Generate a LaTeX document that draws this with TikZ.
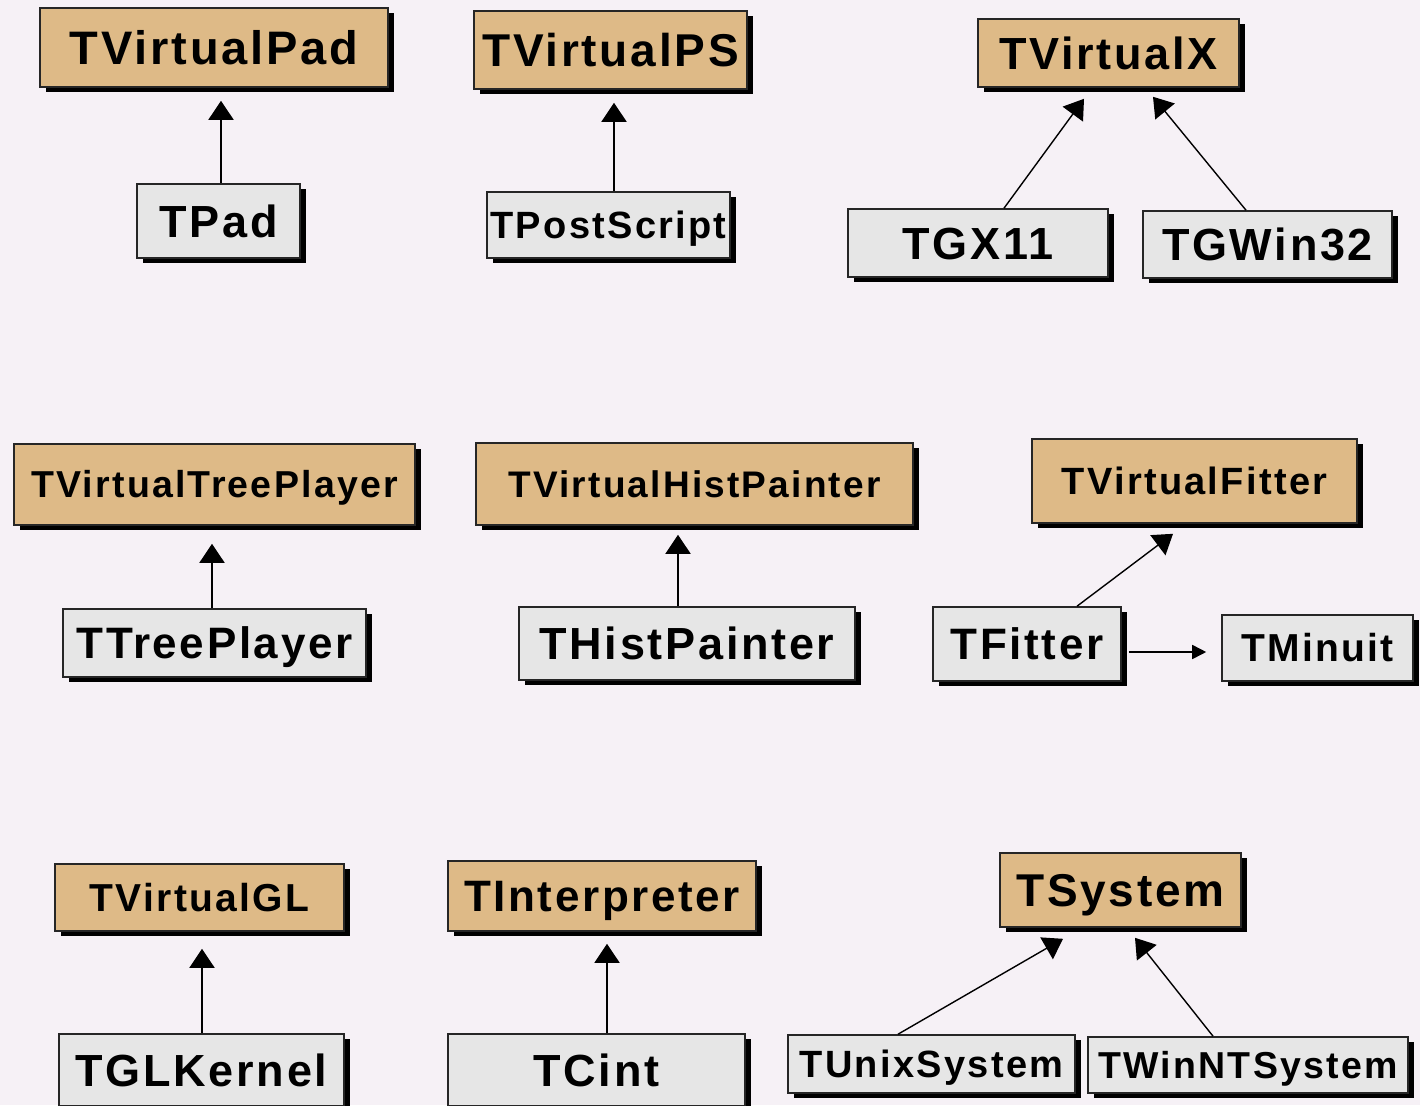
\documentclass[tikz,border=0pt]{standalone}
\usepackage{fontspec}
\usetikzlibrary{arrows.meta,shadows,calc}
\newfontfamily\boxfont{Liberation Sans}[LetterSpace=6]
\definecolor{canvasbg}{RGB}{246,241,246}
\definecolor{basefill}{RGB}{222,186,135}
\definecolor{implfill}{RGB}{230,230,230}
\tikzset{
  cls/.style={draw=black!85, line width=1.6pt, inner sep=0pt, text depth=0pt,
    drop shadow={shadow xshift=6pt, shadow yshift=-5pt, fill=black, opacity=1}},
  abstractcls/.style={cls, fill=basefill},
  concretecls/.style={cls, fill=implfill},
  boxsize/.style 2 args={minimum width=#1pt, minimum height=#2pt},
  % label size: font size and a text height equal to the cap height
  fs/.code={%
    \pgfmathsetmacro\capht{0.716*#1}%
    \edef\fsopts{\noexpand\tikzset{text height=\capht pt}}\fsopts
    \tikzset{font=\boxfont\bfseries\fontsize{#1}{#1}\selectfont}},
  inherits/.style={-{Triangle[length=19pt,width=25pt]}, line width=1.8pt},
  uses/.style={-{Triangle[length=14pt,width=14pt]}, line width=1.6pt},
}
\begin{document}
\begin{tikzpicture}[x=1pt,y=-1pt]
\useasboundingbox (0,0) rectangle (1420,1105);
\clip (0,0) rectangle (1420,1105);
\fill[canvasbg] (0,0) rectangle (1420,1105);

% graphics pad
\node[abstractcls, boxsize={348}{79}, fs=47] (vpad) at (214,47.5) {TVirtualPad};
\node[concretecls, boxsize={163}{74}, fs=45] (pad) at (218.5,221) {TPad};
% postscript
\node[abstractcls, boxsize={273}{78}, fs=46] (vps) at (610.5,50) {TVirtualPS};
\node[concretecls, boxsize={243}{66}, fs=38] (ps) at (608.5,225) {TPostScript};
% windowing system
\node[abstractcls, boxsize={261}{68}, fs=45] (vx) at (1108.5,53) {TVirtualX};
\node[concretecls, boxsize={260}{68}, fs=45] (gx11) at (978,243) {TGX11};
\node[concretecls, boxsize={249}{67}, fs=45] (gwin) at (1267.5,244.5) {TGWin32};
% tree player
\node[abstractcls, boxsize={401}{81}, fs=37.5] (vtree) at (214.5,484.5) {TVirtualTreePlayer};
\node[concretecls, boxsize={303}{68}, fs=44] (tree) at (214.5,643) {TTreePlayer};
% histogram painter
\node[abstractcls, boxsize={437}{82}, fs=37] (vhist) at (694.5,484) {TVirtualHistPainter};
\node[concretecls, boxsize={336}{73}, fs=45] (hist) at (687,643.5) {THistPainter};
% fitter
\node[abstractcls, boxsize={325}{84}, fs=38] (vfit) at (1194.5,481) {TVirtualFitter};
\node[concretecls, boxsize={188}{74}, fs=44] (fit) at (1027,644) {TFitter};
\node[concretecls, boxsize={191}{66}, fs=39] (minuit) at (1317.5,648) {TMinuit};
% OpenGL
\node[abstractcls, boxsize={289}{67}, fs=39] (vgl) at (199.5,897.5) {TVirtualGL};
\node[concretecls, boxsize={285}{72}, fs=45] (gl) at (201.5,1070) {TGLKernel};
% interpreter
\node[abstractcls, boxsize={308}{70}, fs=44] (vint) at (602,896) {TInterpreter};
\node[concretecls, boxsize={297}{72}, fs=45] (cint) at (596.5,1070) {TCint};
% operating system
\node[abstractcls, boxsize={241}{74}, fs=46] (sys) at (1120.5,890) {TSystem};
\node[concretecls, boxsize={287}{58}, fs=38] (unix) at (931.5,1064) {TUnixSystem};
\node[concretecls, boxsize={320}{56}, fs=37.5] (winnt) at (1248,1065) {TWinNTSystem};

% inheritance connectors
\draw[inherits] ($(pad.north)+(2.5,0)$) -- ($(pad.north |- vpad.south)+(2.5,13)$);
\draw[inherits] ($(ps.north)+(5.5,0)$) -- ($(ps.north |- vps.south)+(5.5,13)$);
\draw[inherits] ($(tree.north)+(-2.5,0)$) -- ($(tree.north |- vtree.south)+(-2.5,18)$);
\draw[inherits] ($(hist.north)+(-9,0)$) -- ($(hist.north |- vhist.south)+(-9,9)$);
\draw[inherits] ($(gl.north)+(0.5,0)$) -- ($(gl.north |- vgl.south)+(0.5,17)$);
\draw[inherits] ($(cint.north)+(10.5,0)$) -- ($(cint.north |- vint.south)+(10.5,12)$);

\draw[inherits, line width=1.4pt] ($(gx11.north)+(26,0)$) -- ($(vx.south)+(-24.5,11)$);
\draw[inherits, line width=1.4pt] ($(gwin.north)+(-21.5,0)$) -- ($(vx.south)+(44.5,9)$);
\draw[inherits, line width=1.4pt] ($(fit.north)+(50,0)$) -- ($(vfit.south)+(-21.5,10)$);
\draw[inherits, line width=1.4pt] ($(unix.north)+(-33.5,0)$) -- ($(sys.south)+(-57.5,11)$);
\draw[inherits, line width=1.4pt] ($(winnt.north)+(-35,0)$) -- ($(sys.south)+(14.5,10)$);

% association
\draw[uses] ($(fit.east)+(7,8)$) -- ($(minuit.west)+(-15,4)$);
\end{tikzpicture}
\end{document}
